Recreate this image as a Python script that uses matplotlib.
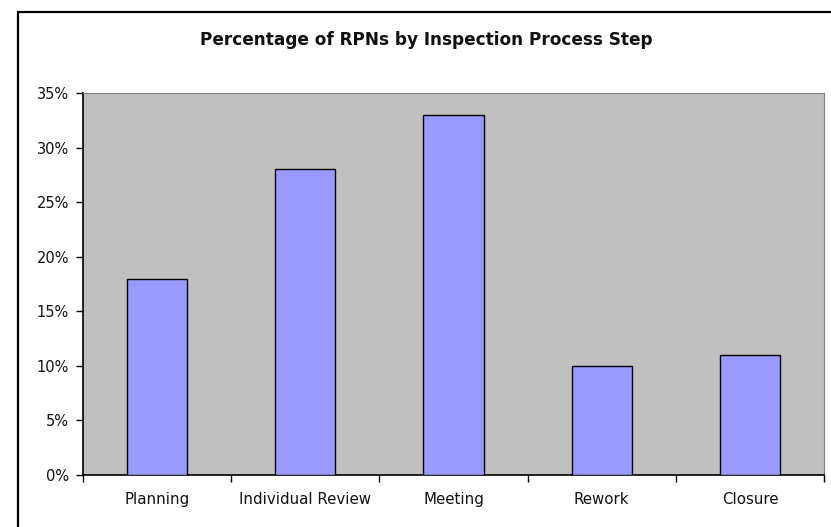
import matplotlib
matplotlib.use("Agg")
import matplotlib.pyplot as plt
from matplotlib.patches import Rectangle
import numpy as np

categories = ["Planning", "Individual Review", "Meeting", "Rework", "Closure"]
values = [18, 28, 33, 10, 11]
yticks = [0, 5, 10, 15, 20, 25, 30, 35]
ytick_labels = ["0%", "5%", "10%", "15%", "20%", "25%", "30%", "35%"]

plt.rcParams['font.family'] = ['DejaVu Sans']

fig = plt.figure(figsize=(8.31, 5.27), dpi=100)
W, H = 831, 527

# outer frame
fig.patches.append(Rectangle((18 / W, -0.1), 1.2, 1 - 12 / H + 0.1, transform=fig.transFigure,
                             fill=False, edgecolor='black', linewidth=1.6))

ax = fig.add_axes([83 / W, (H - 475) / H, (824 - 83) / W, (475 - 93) / H])
ax.set_facecolor('#C0C0C0')
x = np.arange(len(categories))
ax.bar(x, values, width=0.405, color='#9999FF', edgecolor='black', linewidth=1.0, zorder=3)

ax.set_xlim(-0.5, len(categories) - 0.5)
ax.set_ylim(0, 35)
ax.set_yticks(yticks)
ax.set_yticklabels(ytick_labels, fontsize=10.5, color='#111111')
ax.set_xticks(x)
ax.set_xticklabels(categories, fontsize=10.8, color='#111111')
ax.tick_params(axis='x', which='major', length=0, pad=12)
ax.set_xticks(np.arange(-0.5, len(categories)), minor=True)
ax.tick_params(axis='x', which='minor', length=5, width=1, direction='out')
ax.tick_params(axis='y', length=5, width=1, direction='out', pad=5)

for s in ['top', 'right']:
    ax.spines[s].set_color('#808080')
    ax.spines[s].set_linewidth(0.8)
for s in ['left', 'bottom']:
    ax.spines[s].set_color('black')
    ax.spines[s].set_linewidth(1.2)

fig.text(426 / W, 1 - 40 / H, "Percentage of RPNs by Inspection Process Step",
         ha='center', va='center', fontsize=12.2, fontweight='bold', color='#111111')

fig.savefig("out.png", dpi=100)
